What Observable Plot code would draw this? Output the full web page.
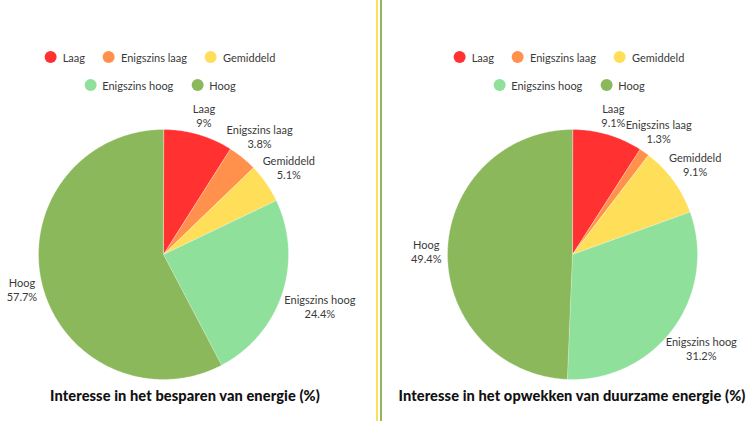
<!DOCTYPE html>
<html><head><meta charset="utf-8">
<script src="https://cdn.jsdelivr.net/npm/d3@7"></script>
<script src="https://cdn.jsdelivr.net/npm/@observablehq/plot@0.6"></script>
<style>
body{margin:0;background:#fff;font-family:Lato,sans-serif;}
#wrap{position:relative;width:750px;height:421px;overflow:hidden;background:#fff;}
.pie{position:absolute;top:94px;}
.legend{position:absolute;transform:translateX(-50%);display:flex;flex-direction:column;align-items:center;gap:0;font-size:11px;color:#3a3a3a;white-space:nowrap;}
.row{display:flex;align-items:center;height:28px;}
.item{display:flex;align-items:center;margin:0 9px;}
.dot{width:12px;height:12px;border-radius:50%;margin-right:6px;}
.title{position:absolute;transform:translate(-50%,-50%);font-weight:900;font-size:14.6px;color:#111;white-space:nowrap;top:395px;letter-spacing:0.1px;}
.vline{position:absolute;top:0;height:421px;width:2px;}
</style></head><body><div id="wrap"></div>
<script>
const categories = ["Laag", "Enigszins laag", "Gemiddeld", "Enigszins hoog", "Hoog"];
const colors = ["#ff3131", "#ff914d", "#ffde59", "#8ee09b", "#8cb85c"];
const legendRows = [["Laag", "Enigszins laag", "Gemiddeld"], ["Enigszins hoog", "Hoog"]];
const besparenValues = [9, 3.8, 5.1, 24.4, 57.7];
const opwekkenValues = [9.1, 1.3, 9.1, 31.2, 49.4];
const chartTitles = ["Interesse in het besparen van energie (%)", "Interesse in het opwekken van duurzame energie (%)"];

const wrap = document.getElementById("wrap");
const R = 125, W = 375, H = 320;
const canvas = document.createElement("canvas").getContext("2d");
canvas.font = "11px Lato";

const panels = [
  {values: besparenValues, title: chartTitles[0], left: 0, cx: 163, legendX: 160, titleX: 185},
  {values: opwekkenValues, title: chartTitles[1], left: 375, cx: 197, legendX: 569, titleX: 572}
];

function buildPie(p) {
  const total = d3.sum(p.values);
  let acc = 0;
  const pts = [], labels = [];
  p.values.forEach((v, i) => {
    const a0 = acc / total * 2 * Math.PI;
    acc += v;
    const a1 = acc / total * 2 * Math.PI;
    const cat = categories[i];
    pts.push({cat, x: 0, y: 0});
    const n = Math.max(2, Math.ceil((a1 - a0) / (Math.PI / 360)));
    for (let k = 0; k <= n; k++) {
      const a = a0 + (a1 - a0) * k / n;
      pts.push({cat, x: Math.sin(a), y: Math.cos(a)});
    }
    const am = (a0 + a1) / 2;
    const text = cat + "\n" + v + "%";
    const w = Math.max(canvas.measureText(cat).width, canvas.measureText(v + "%").width);
    const dist = 1.16 + Math.max(0, w / 2 * Math.abs(Math.sin(am)) - 14) / R;
    labels.push({text, x: dist * Math.sin(am), y: dist * Math.cos(am)});
  });
  const chart = Plot.plot({
    width: W, height: H, margin: 0,
    x: {domain: [-p.cx / R, (W - p.cx) / R], axis: null},
    y: {domain: [-H / 2 / R, H / 2 / R], axis: null},
    color: {domain: categories, range: colors},
    style: {background: "transparent", overflow: "visible"},
    marks: [
      Plot.line(pts, {x: "x", y: "y", z: "cat", fill: "cat", stroke: "#fff", strokeWidth: 0.3, curve: "linear-closed"}),
      Plot.text(labels, {x: "x", y: "y", text: "text", fill: "#3a3a3a", fontSize: 11, fontFamily: "Lato", lineHeight: 1.27})
    ]
  });
  chart.classList.add("pie");
  chart.style.left = p.left + "px";
  wrap.appendChild(chart);

  const lg = document.createElement("div");
  lg.className = "legend";
  lg.style.left = p.legendX + "px";
  lg.style.top = "43px";
  legendRows.forEach(row => {
    const r = document.createElement("div");
    r.className = "row";
    row.forEach(c => {
      const it = document.createElement("div");
      it.className = "item";
      const dot = document.createElement("span");
      dot.className = "dot";
      dot.style.background = colors[categories.indexOf(c)];
      const t = document.createElement("span");
      t.textContent = c;
      it.appendChild(dot); it.appendChild(t);
      r.appendChild(it);
    });
    lg.appendChild(r);
  });
  wrap.appendChild(lg);

  const tt = document.createElement("div");
  tt.className = "title";
  tt.style.left = p.titleX + "px";
  tt.textContent = p.title;
  wrap.appendChild(tt);
}
panels.forEach(buildPie);

[["#ffde59", 376], ["#8cb85c", 379.5]].forEach(([c, x]) => {
  const l = document.createElement("div");
  l.className = "vline";
  l.style.background = c;
  l.style.left = x + "px";
  wrap.appendChild(l);
});
</script></body></html>
